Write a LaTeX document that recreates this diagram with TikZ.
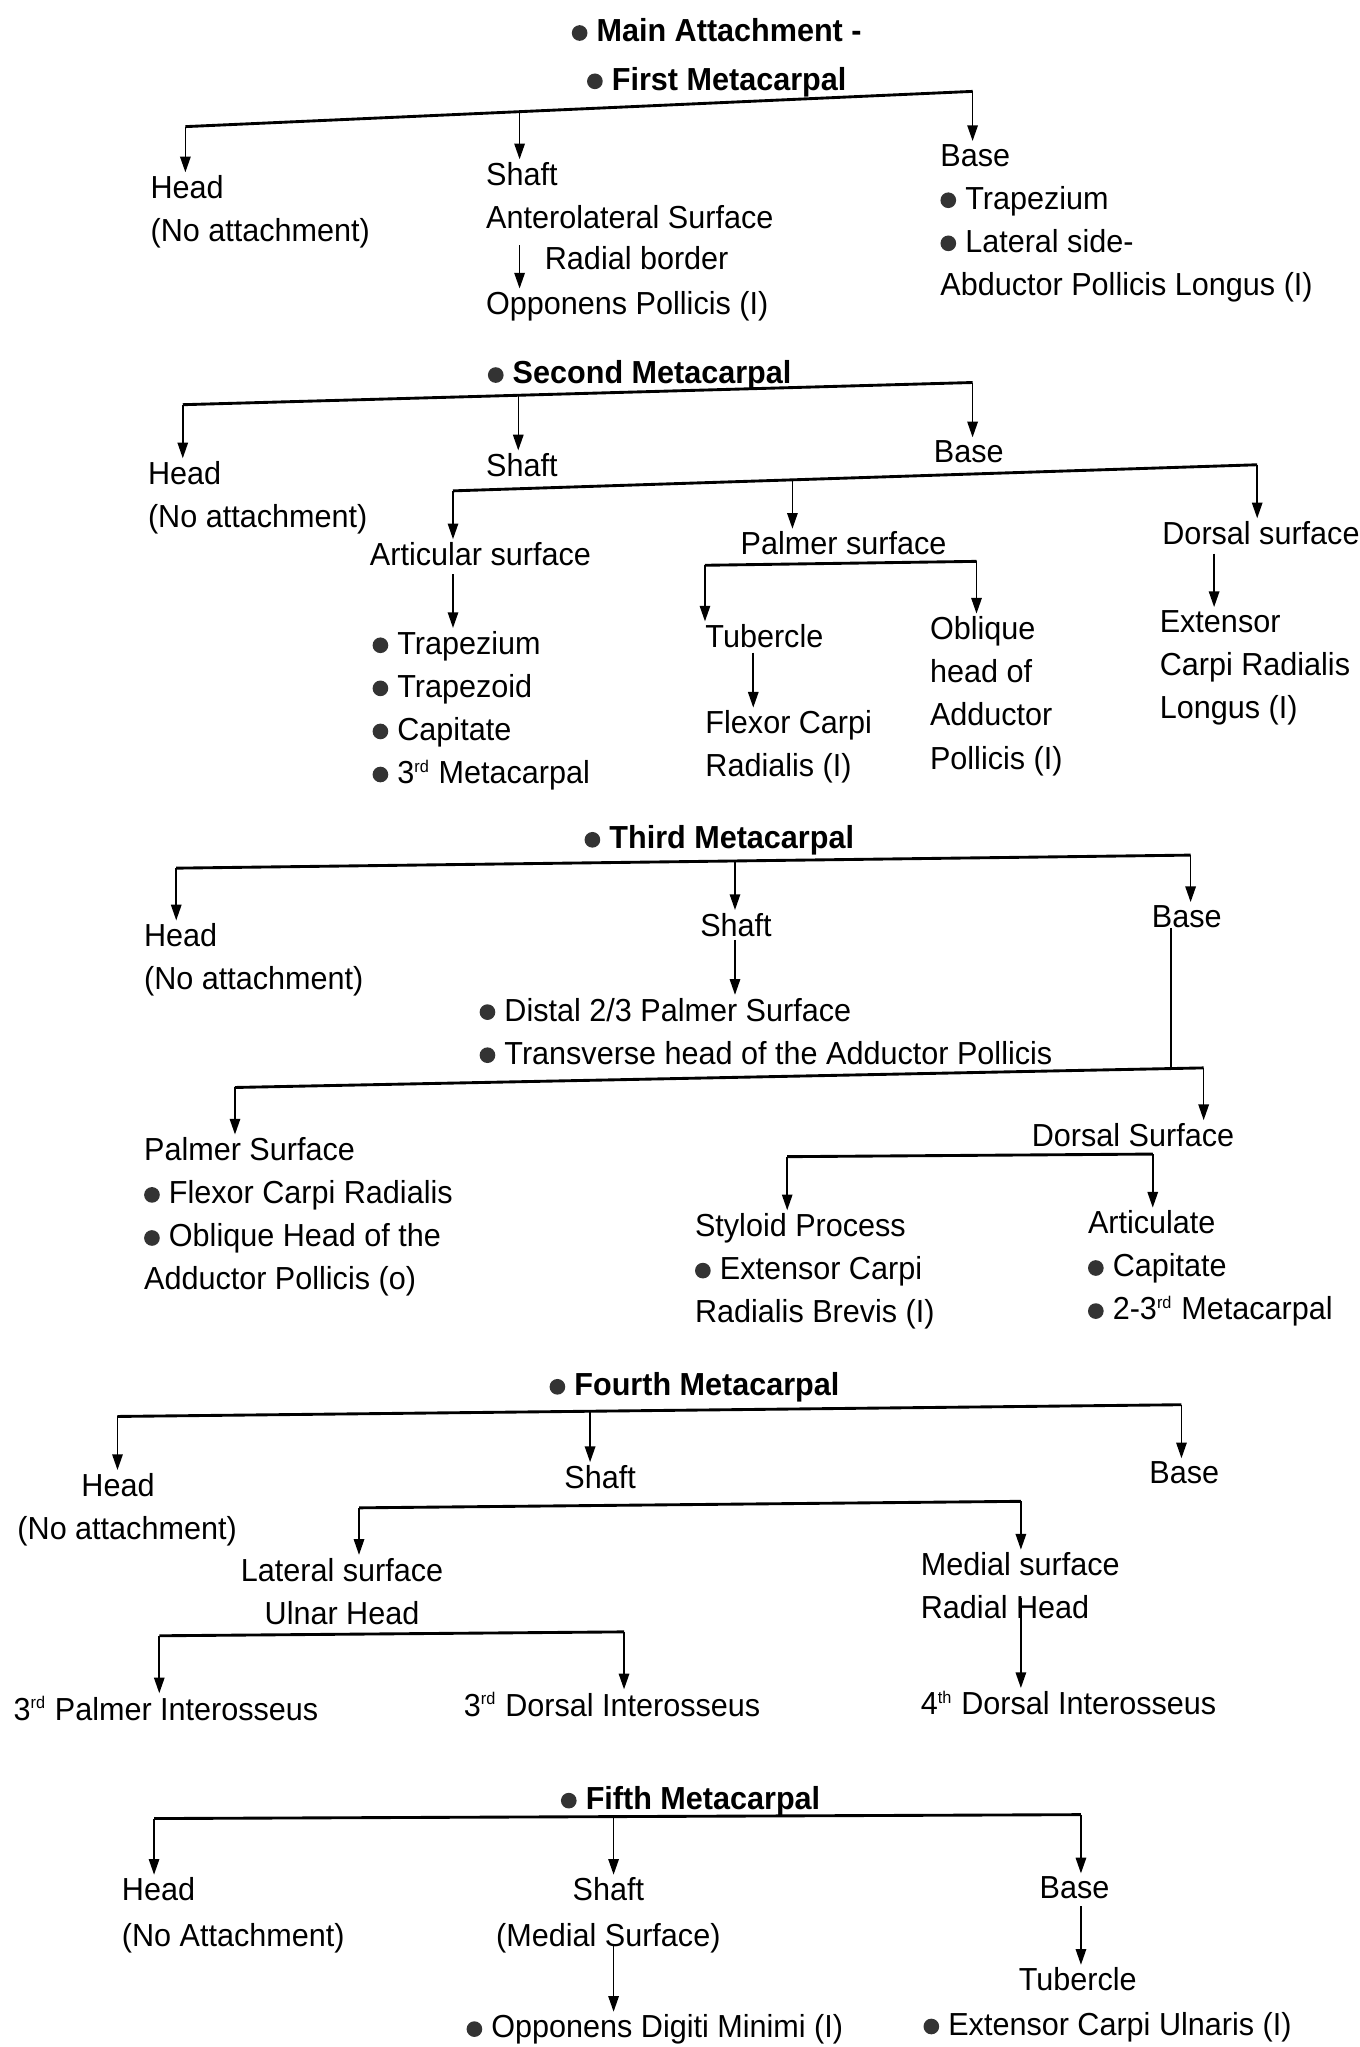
\documentclass[tikz,border=0pt]{standalone}
\usepackage{fontspec}
\setmainfont{Liberation Sans}[FakeStretch=0.96]
\usetikzlibrary{arrows.meta}
\newcommand\bul{\tikz[baseline={(0,-3.4pt)}]\fill[black!80] (0,0) circle (3pt);\hspace{3.5pt}}
\newcommand\sups[1]{\textsuperscript{\fontsize{6.5}{6.5}\selectfont #1}}
\tikzset{
 txt/.style={anchor=north west, inner sep=0pt, align=left, font=\fontsize{12.2}{16.5}\selectfont},
 ctxt/.style={anchor=north, inner sep=0pt, align=center, font=\fontsize{12.2}{16.5}\selectfont},
 ttl/.style={anchor=north, inner sep=0pt, align=center, font=\fontsize{12.2}{17.5}\selectfont\bfseries},
 bar/.style={line width=1.1pt},
 arr/.style={line width=0.6pt, -{Triangle[length=6pt,width=4pt]}, shorten >=1pt},
 lnk/.style={line width=0.6pt},
}
\begin{document}
\begin{tikzpicture}[x=0.5pt,y=-0.5pt]
\useasboundingbox (0,0) rectangle (1041,1568);
% ---------- First metacarpal ----------
\node[ttl] (T1) at (549,14) {\bul Main Attachment -\\[1pt]\bul First Metacarpal};
\node[txt] (H1) at (115,134) {Head\\(No attachment)};
\node[txt] (S1a) at (372,124) {Shaft\\Anterolateral Surface};
\node[txt] (S1b) at (417,188) {Radial border};
\node[txt] (S1c) at (372,223) {Opponens Pollicis (I)};
\node[txt] (B1) at (720,110) {Base\\\bul Trapezium\\\bul Lateral side-\\Abductor Pollicis Longus (I)};
\coordinate (k1a) at (142,97);
\coordinate (k1b) at (398,85.5);
\coordinate (k1c) at (745,70);
\draw[bar] (k1a) -- (k1c);
\draw[arr] (k1a) -- (k1a |- H1.north);
\draw[arr] (k1b) -- (k1b |- S1a.north);
\draw[arr] (k1c) -- (k1c |- B1.north);
\coordinate (a1) at (398,188);
\draw[arr] (a1) -- (a1 |- S1c.north);
% ---------- Second metacarpal ----------
\node[ttl] (T2) at (490,276) {\bul Second Metacarpal};
\node[txt] (H2) at (113,353) {Head\\(No attachment)};
\node[txt] (S2) at (372,347) {Shaft};
\node[txt] (B2) at (715,337) {Base};
\coordinate (k2a) at (140,310);
\coordinate (k2b) at (397,302.8);
\coordinate (k2c) at (745,293);
\draw[bar] (k2a) -- (k2c);
\draw[arr] (k2a) -- (k2a |- H2.north);
\draw[arr] (k2b) -- (k2b |- S2.north);
\draw[arr] (k2c) -- (k2c |- B2.north);
\node[txt] (AS) at (283,415) {Articular surface};
\node[txt] (AL) at (285,483) {\bul Trapezium\\\bul Trapezoid\\\bul Capitate\\\bul 3\sups{rd} Metacarpal};
\node[txt] (PS) at (567,407) {Palmer surface};
\node[txt] (TB) at (540,478) {Tubercle};
\node[txt] (FC) at (540,544) {Flexor Carpi\\Radialis (I)};
\node[txt] (OB) at (712,472) {Oblique\\head of\\Adductor\\Pollicis (I)};
\node[txt] (DS) at (890,399) {Dorsal surface};
\node[txt] (EX) at (888,467) {Extensor\\Carpi Radialis\\Longus (I)};
\coordinate (k2d) at (347,376);
\coordinate (k2e) at (607,367.6);
\coordinate (k2f) at (963,356);
\draw[bar] (k2d) -- (k2f);
\draw[arr] (k2d) -- (k2d |- AS.north);
\draw[arr] (k2e) -- (k2e |- PS.north);
\draw[arr] (k2f) -- (k2f |- DS.north);
\coordinate (a2) at (347,440);
\draw[arr] (a2) -- (a2 |- AL.north);
\coordinate (k2g) at (540,433);
\coordinate (k2h) at (748,430);
\draw[bar] (k2g) -- (k2h);
\draw[arr] (k2g) -- (k2g |- TB.north);
\draw[arr] (k2h) -- (k2h |- OB.north);
\coordinate (a3) at (577,500);
\draw[arr] (a3) -- (a3 |- FC.north);
\coordinate (a4) at (930,424);
\draw[arr] (a4) -- (a4 |- EX.north);
% ---------- Third metacarpal ----------
\node[ttl] (T3) at (551,632) {\bul Third Metacarpal};
\node[txt] (H3) at (110,707) {Head\\(No attachment)};
\node[txt] (S3) at (536,699) {Shaft};
\node[txt] (B3) at (882,693) {Base};
\node[txt] (DP) at (367,764) {\bul Distal 2/3 Palmer Surface\\\bul Transverse head of the Adductor Pollicis};
\coordinate (k3a) at (135,665);
\coordinate (k3b) at (563,659.5);
\coordinate (k3c) at (912,655);
\draw[bar] (k3a) -- (k3c);
\draw[arr] (k3a) -- (k3a |- H3.north);
\draw[arr] (k3b) -- (k3b |- S3.north);
\draw[arr] (k3c) -- (k3c |- B3.north);
\coordinate (a5) at (563,720);
\draw[arr] (a5) -- (a5 |- DP.north);
\node[txt] (PS3) at (110,871) {Palmer Surface\\\bul Flexor Carpi Radialis\\\bul Oblique Head of the\\Adductor Pollicis (o)};
\node[txt] (DS3) at (790,860) {Dorsal Surface};
\coordinate (k3d) at (180,833);
\coordinate (k3e) at (897,818.5);
\coordinate (k3f) at (922,818);
\draw[bar] (k3d) -- (k3f);
\draw[lnk] (k3e |- B3.south) -- (k3e);
\draw[arr] (k3d) -- (k3d |- PS3.north);
\draw[arr] (k3f) -- (k3f |- DS3.north);
\node[txt] (SP) at (532,929) {Styloid Process\\\bul Extensor Carpi\\Radialis Brevis (I)};
\node[txt] (AR) at (833,927) {Articulate\\\bul Capitate\\\bul 2-3\sups{rd} Metacarpal};
\coordinate (k3g) at (603,886);
\coordinate (k3h) at (883,884);
\draw[bar] (k3g) -- (k3h);
\draw[arr] (k3g) -- (k3g |- SP.north);
\draw[arr] (k3h) -- (k3h |- AR.north);
% ---------- Fourth metacarpal ----------
\node[ttl] (T4) at (532,1051) {\bul Fourth Metacarpal};
\node[txt] (H4) at (13,1128) {\hspace{24.5pt}Head\\(No attachment)};
\node[txt] (S4) at (432,1122) {Shaft};
\node[txt] (B4) at (880,1119) {Base};
\coordinate (k4a) at (90,1085);
\coordinate (k4b) at (452,1081);
\coordinate (k4c) at (905,1076);
\draw[bar] (k4a) -- (k4c);
\draw[arr] (k4a) -- (k4a |- H4.north);
\draw[arr] (k4b) -- (k4b |- S4.north);
\draw[arr] (k4c) -- (k4c |- B4.north);
\node[ctxt] (LS) at (262,1193) {Lateral surface\\Ulnar Head};
\node[txt] (MS) at (705,1189) {Medial surface\\Radial Head};
\coordinate (k4d) at (275,1155);
\coordinate (k4e) at (782,1150);
\draw[bar] (k4d) -- (k4e);
\draw[arr] (k4d) -- (k4d |- LS.north);
\draw[arr] (k4e) -- (k4e |- MS.north);
\node[txt] (P3) at (10,1299) {3\sups{rd} Palmer Interosseus};
\node[txt] (D3) at (355,1296) {3\sups{rd} Dorsal Interosseus};
\node[txt] (D4) at (705,1295) {4\sups{th} Dorsal Interosseus};
\coordinate (k4f) at (122,1253);
\coordinate (k4g) at (478,1250);
\draw[bar] (k4f) -- (k4g);
\draw[arr] (k4f) -- (k4f |- P3.north);
\draw[arr] (k4g) -- (k4g |- D3.north);
\coordinate (a6) at (782,1224);
\draw[arr] (a6) -- (a6 |- D4.north);
% ---------- Fifth metacarpal ----------
\node[ttl] (T5) at (529,1368) {\bul Fifth Metacarpal};
\node[txt] (H5) at (93,1438) {Head\\[1pt](No Attachment)};
\node[ctxt] (S5) at (466,1438) {Shaft\\[1pt](Medial Surface)};
\node[txt] (B5) at (796,1437) {Base};
\coordinate (k5a) at (118,1393);
\coordinate (k5b) at (470,1391.5);
\coordinate (k5c) at (828,1390);
\draw[bar] (k5a) -- (k5c);
\draw[arr] (k5a) -- (k5a |- H5.north);
\draw[arr] (k5b) -- (k5b |- S5.north);
\draw[arr] (k5c) -- (k5c |- B5.north);
\node[txt] (OD) at (357,1543) {\bul Opponens Digiti Minimi (I)};
\node[txt] (TU) at (780,1507) {Tubercle};
\node[txt] (EC) at (707,1541) {\bul Extensor Carpi Ulnaris (I)};
\coordinate (a7) at (470,1490);
\draw[arr] (a7) -- (a7 |- OD.north);
\coordinate (a8) at (828,1460);
\draw[arr] (a8) -- (a8 |- TU.north);
\end{tikzpicture}
\end{document}
